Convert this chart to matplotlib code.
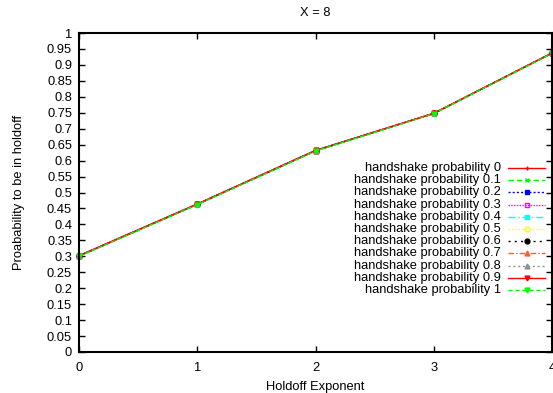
import matplotlib
matplotlib.use("Agg")
import matplotlib.pyplot as plt
from matplotlib.lines import Line2D

plt.rcParams['font.family'] = ['Liberation Sans', 'DejaVu Sans']

exponents = [0, 1, 2, 3, 4]
probabilities = ["0", "0.1", "0.2", "0.3", "0.4", "0.5", "0.6", "0.7", "0.8", "0.9", "1"]

p_0 = [0.301, 0.463, 0.631, 0.748, 0.937]
p_01 = [0.301, 0.463, 0.631, 0.748, 0.937]
p_02 = [0.301, 0.463, 0.631, 0.748, 0.937]
p_03 = [0.302, 0.464, 0.632, 0.748, 0.938]
p_04 = [0.300, 0.462, 0.630, 0.747, 0.936]
p_05 = [0.301, 0.463, 0.631, 0.748, 0.937]
p_06 = [0.301, 0.463, 0.631, 0.748, 0.937]
p_07 = [0.301, 0.463, 0.631, 0.748, 0.937]
p_08 = [0.301, 0.463, 0.631, 0.748, 0.937]
p_09 = [0.302, 0.464, 0.632, 0.748, 0.937]
p_1 = [0.300, 0.462, 0.630, 0.747, 0.936]
series = [p_0, p_01, p_02, p_03, p_04, p_05, p_06, p_07, p_08, p_09, p_1]

yticks = [i * 0.05 for i in range(21)]
ytick_labels = ["0", "0.05", "0.1", "0.15", "0.2", "0.25", "0.3", "0.35", "0.4", "0.45",
                "0.5", "0.55", "0.6", "0.65", "0.7", "0.75", "0.8", "0.85", "0.9", "0.95", "1"]

styles = [
    dict(color="#ff0000", ls="-", marker="+", mfc="#ff0000"),
    dict(color="#00ff00", ls=(0, (4, 2)), marker="x", mfc="#00ff00"),
    dict(color="#0000ff", ls=(0, (1.5, 1.5)), marker="s", mfc="#0000ff"),
    dict(color="#ff00ff", ls=(0, (1, 1)), marker="s", mfc="none"),
    dict(color="#00ffff", ls=(0, (5, 2, 1, 2)), marker="s", mfc="#00ffff"),
    dict(color="#ffff00", ls=(0, (1, 1.5)), marker="o", mfc="none"),
    dict(color="#000000", ls=(0, (1.5, 3)), marker="o", mfc="#000000"),
    dict(color="#ff6020", ls=(0, (4, 1.5, 1, 1.5)), marker="^", mfc="#ff6020"),
    dict(color="#909090", ls=(0, (1.5, 2)), marker="^", mfc="#909090"),
    dict(color="#ff0000", ls="-", marker="v", mfc="#ff0000"),
    dict(color="#00ff00", ls=(0, (3, 2)), marker="v", mfc="#00ff00"),
]

W, H = 553, 393
fig = plt.figure(figsize=(W / 100, H / 100), dpi=100)
ax = fig.add_axes([79 / W, 1 - 352 / H, (552 - 79) / W, (352 - 33) / H])

fs = 9.3
for vals, st in zip(series, styles):
    ax.plot(exponents, vals, color=st["color"], ls=st["ls"], lw=1.0,
            marker=st["marker"], ms=3.5, mfc=st["mfc"], mec=st["color"], mew=1.0,
            clip_on=False)

ax.set_xlim(0, 4)
ax.set_ylim(0, 1)
ax.set_xticks(exponents)
ax.set_xticklabels([str(e) for e in exponents], fontsize=fs)
ax.set_yticks(yticks)
ax.set_yticklabels(ytick_labels, fontsize=fs)
ax.tick_params(direction="in", length=4, width=1.0, top=True, right=True, pad=5)
ax.tick_params(axis="x", pad=7)
for sp in ax.spines.values():
    sp.set_linewidth(1.5)

ax.set_title("X = 8", fontsize=fs, pad=12)
ax.set_xlabel("Holdoff Exponent", fontsize=fs, labelpad=5)
ax.set_ylabel("Proabability to be in holdoff", fontsize=fs, labelpad=16)

# key: right-aligned labels with line samples to their right
row0 = 168
step = 12.2
for i, (lab, st) in enumerate(zip(probabilities, styles)):
    yp = row0 + i * step
    fig.text(501 / W, 1 - yp / H, "handshake probability " + lab, fontsize=fs,
             ha="right", va="center")
    fig.add_artist(Line2D([508 / W, 545 / W], [1 - yp / H, 1 - yp / H],
                          color=st["color"], ls=st["ls"], lw=1.0,
                          transform=fig.transFigure))
    fig.add_artist(Line2D([526.5 / W], [1 - yp / H], color=st["color"], ls="none",
                          marker=st["marker"], ms=3.5, mfc=st["mfc"], mec=st["color"],
                          mew=1.0, transform=fig.transFigure))

fig.savefig("out.png", dpi=100)
